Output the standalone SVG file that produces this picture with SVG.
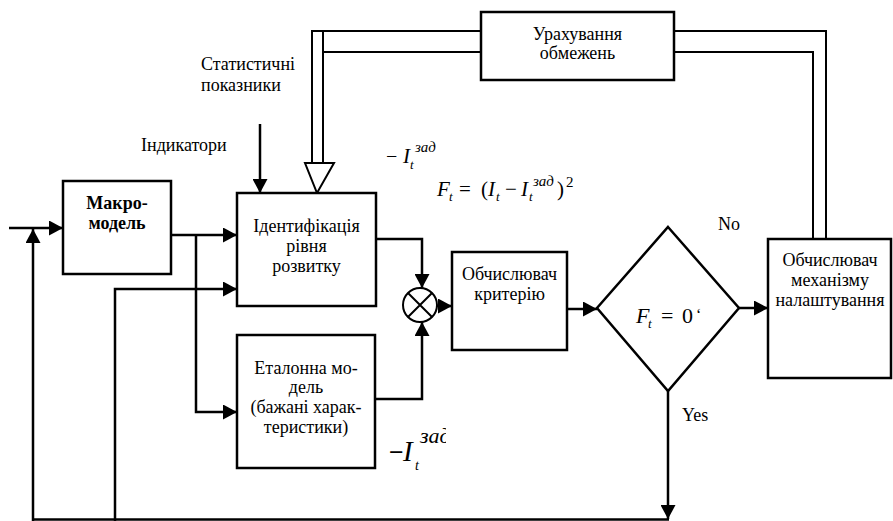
<svg xmlns="http://www.w3.org/2000/svg" width="893" height="521" viewBox="0 0 893 521">
<style>
.box{fill:#fff;stroke:#000;stroke-width:2.5}
.ln{fill:none;stroke:#000;stroke-width:2.5}
.dl{fill:none;stroke:#000;stroke-width:2}
text{font-family:"Liberation Serif","Times New Roman","DejaVu Serif",serif;fill:#000}
.t{font-size:18px}
.c{text-anchor:middle}
.b{font-weight:bold}
.m{font-style:italic}
</style>
<defs>
<marker id="ah" markerUnits="userSpaceOnUse" markerWidth="15" markerHeight="15" refX="14" refY="7.5" orient="auto">
<path d="M0,0 L14,7.5 L0,15 z" fill="#000"/>
</marker>
<clipPath id="clipz"><rect x="380" y="415" width="66" height="70"/></clipPath>
</defs>

<g id="connectors">
<path class="ln" d="M9,228 H63" marker-end="url(#ah)"/>
<path class="ln" d="M33,521 V229" marker-end="url(#ah)"/>
<path class="ln" d="M171,235 H237" marker-end="url(#ah)"/>
<path class="ln" d="M196,235 V412 H237" marker-end="url(#ah)"/>
<path class="ln" d="M115,521 V289 H237" marker-end="url(#ah)"/>
<path class="ln" d="M260,124 V193" marker-end="url(#ah)"/>
<path class="ln" d="M376,239 H422 V288" marker-end="url(#ah)"/>
<path class="ln" d="M375,399 H422 V322" marker-end="url(#ah)"/>
<path class="ln" d="M437,306 H452" marker-end="url(#ah)"/>
<path class="ln" d="M567,309 H597" marker-end="url(#ah)"/>
<path class="ln" d="M739,308 H768" marker-end="url(#ah)"/>
<path class="ln" d="M668,391 V519" marker-end="url(#ah)"/>
<path class="ln" d="M669,519.5 H33"/>
<path class="dl" d="M312,163 V31 H481"/>
<path class="dl" d="M323,31 V163"/>
<path class="dl" d="M323,52 H481"/>
<polygon points="305,163 334,163 317,193" fill="#fff" stroke="#000" stroke-width="2"/>
<path class="dl" d="M674,31 H826 V239"/>
<path class="dl" d="M674,52 H813 V239"/>
</g>

<g id="macro">
<rect class="box" x="63" y="181" width="108" height="93"/>
<text class="t c b" x="117" y="209">Макро-</text>
<text class="t c b" x="117" y="229">модель</text>
</g>

<g id="ident">
<rect class="box" x="237" y="193" width="139" height="113"/>
<text class="t c" x="306.5" y="232">Ідентифікація</text>
<text class="t c" x="306.5" y="252">рівня</text>
<text class="t c" x="306.5" y="272">розвитку</text>
</g>

<g id="etalon">
<rect class="box" x="237" y="335" width="138" height="133"/>
<text class="t c" x="306" y="374">Еталонна мо-</text>
<text class="t c" x="306" y="393">дель</text>
<text class="t c" x="306" y="413">(бажані харак-</text>
<text class="t c" x="306" y="433">теристики)</text>
</g>

<g id="summator">
<circle cx="420" cy="305" r="17" fill="#fff" stroke="#000" stroke-width="2"/>
<path d="M408,293 L432,317 M432,293 L408,317" stroke="#000" stroke-width="2"/>
</g>

<g id="criterion">
<rect class="box" x="452" y="252" width="115" height="98"/>
<text class="t c" x="509.5" y="280">Обчислювач</text>
<text class="t c" x="509.5" y="300">критерію</text>
</g>

<g id="decision">
<polygon points="668,227 739,308 668,391 597,308" fill="#fff" stroke="#000" stroke-width="2.5"/>
<text class="m" x="636" y="323" font-size="22">F</text>
<text class="m" x="648" y="328" font-size="13">t</text>
<text x="661" y="323" font-size="22">=</text>
<text x="682" y="323" font-size="22">0</text>
<text x="696" y="320" font-size="16">‘</text>
</g>

<g id="mechanism">
<rect class="box" x="768" y="239" width="123" height="139"/>
<text class="t c" x="830" y="266">Обчислювач</text>
<text class="t c" x="830" y="286">механізму</text>
<text class="t c" x="830" y="306">налаштування</text>
</g>

<g id="constraints">
<rect class="box" x="481" y="12" width="193" height="68"/>
<text class="t c" x="577.5" y="40">Урахування</text>
<text class="t c" x="577.5" y="59">обмежень</text>
</g>

<g id="labels">
<text class="t" x="201" y="70">Статистичні</text>
<text class="t" x="201" y="91">показники</text>
<text class="t" x="141" y="151">Індикатори</text>
<text class="t" x="718" y="230" font-size="17">No</text>
<text class="t" x="682" y="421" font-size="17">Yes</text>
<text x="386" y="163" font-size="20">−</text>
<text class="m" x="403" y="163" font-size="21">I</text>
<text class="m" x="410" y="169" font-size="13">t</text>
<text class="m" x="415" y="152" font-size="15">зад</text>
<text class="m" x="437" y="196" font-size="21">F</text>
<text class="m" x="449" y="201" font-size="13">t</text>
<text x="459" y="196" font-size="21">=</text>
<text x="481" y="196" font-size="21">(</text>
<text class="m" x="488" y="196" font-size="21">I</text>
<text class="m" x="496" y="201" font-size="13">t</text>
<text x="505" y="196" font-size="21">−</text>
<text class="m" x="521" y="196" font-size="21">I</text>
<text class="m" x="529" y="201" font-size="13">t</text>
<text class="m" x="533" y="186" font-size="15">зад</text>
<text x="557" y="196" font-size="21">)</text>
<text x="566" y="187" font-size="15">2</text>
<g clip-path="url(#clipz)">
<text class="b" x="389" y="461" font-size="26">−</text>
<text class="m" x="403" y="461" font-size="29">I</text>
<text class="m" x="415" y="470" font-size="14">t</text>
<text class="m" x="420" y="443" font-size="22">зад</text>
</g>
</g>
</svg>
